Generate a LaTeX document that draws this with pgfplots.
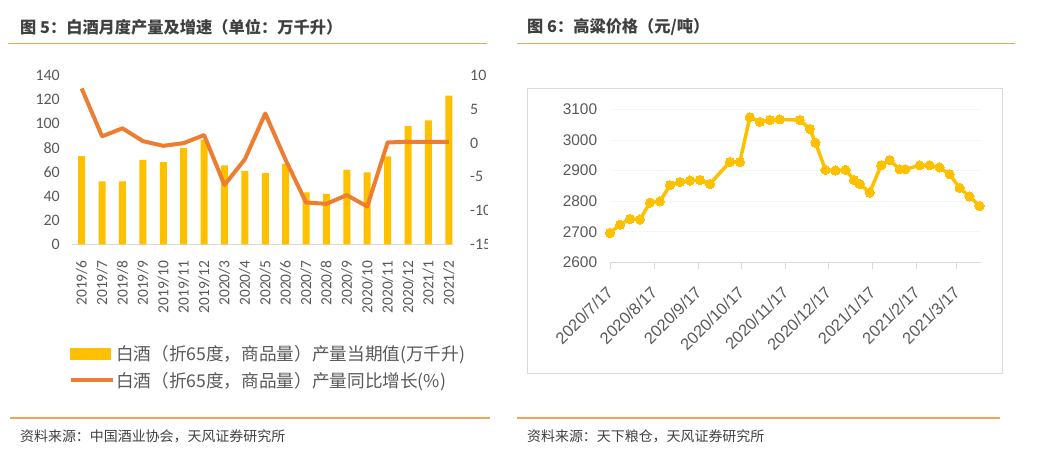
\documentclass[border=0pt]{standalone}
\usepackage{pgfplots}
\pgfplotsset{compat=1.18}
\usepackage{fontspec}
\setmainfont{Carlito}
\newfontfamily\cjk{Noto Sans CJK SC}
\newfontfamily\arial{Liberation Sans}
\definecolor{barY}{HTML}{FFC000}
\definecolor{lineO}{HTML}{ED7D31}
\definecolor{txt}{HTML}{595959}
\definecolor{ttl}{HTML}{404040}
\definecolor{rulec}{HTML}{F2A25C}
\definecolor{axl}{HTML}{D9D9D9}
\pgfplotsset{/pgf/number format/assume math mode=true, /pgf/number format/1000 sep={}}
\begin{document}
\begin{tikzpicture}
\path[use as bounding box] (0,0) rectangle (1041bp,451bp);
% titles and rules
\node[anchor=west, inner sep=0pt, text=ttl, font=\cjk\bfseries\fontsize{16.3}{17}\selectfont] at (20bp,424bp) {图 5：白酒月度产量及增速（单位：万千升）};
\node[anchor=west, inner sep=0pt, text=ttl, font=\cjk\bfseries\fontsize{16.3}{17}\selectfont] at (527bp,424bp) {图 6：高粱价格（元/吨）};
\draw[rulec, line width=1.2bp] (8bp,407.7bp) -- (487bp,407.7bp);
\draw[rulec, line width=1.2bp] (517bp,407.7bp) -- (1015bp,407.7bp);
\draw[rulec, line width=1.2bp] (10bp,33bp) -- (490bp,33bp);
\draw[rulec, line width=1.2bp] (517bp,33bp) -- (1000bp,33bp);
\node[anchor=west, inner sep=0pt, text=ttl, font=\cjk\fontsize{14}{15}\selectfont] at (20bp,15bp) {资料来源：中国酒业协会，天风证券研究所};
\node[anchor=west, inner sep=0pt, text=ttl, font=\cjk\fontsize{14}{15}\selectfont] at (527bp,15bp) {资料来源：天下粮仓，天风证券研究所};

% left panel
\begin{scope}
\clip (0,0) rectangle (487bp,451bp);
\begin{axis}[
  at={(71.7bp,206.7bp)}, anchor=south west,
  scale only axis, width=381.6bp, height=168.6bp,
  xmin=-0.49, xmax=18.22, ymin=0, ymax=140,
  ybar, bar width=7bp,
  axis x line*=bottom, axis y line*=left,
  x axis line style={draw=axl, line width=1.2bp, -},
  y axis line style={draw=none},
  major tick length=0pt, tick style={draw=none},
  xtick={0,...,18},
  xticklabels={2019/6,2019/7,2019/8,2019/9,2019/10,2019/11,2019/12,2020/3,2020/4,2020/5,2020/6,2020/7,2020/8,2020/9,2020/10,2020/11,2020/12,2021/1,2021/2},
  xticklabel style={rotate=90, anchor=east, inner sep=0pt, font=\fontsize{15.5}{15.5}\selectfont, text=txt},
  xticklabel shift=16bp,
  ytick={0,20,...,140},
  yticklabel style={anchor=east, inner sep=0pt, font=\fontsize{16}{16}\selectfont, text=txt},
  yticklabel shift=11.7bp,
  clip=false,
]
\addplot[fill=barY, draw=none] coordinates {
(0,73.3) (1,52.3) (2,52.3) (3,70) (4,68.3) (5,80) (6,87) (7,65.6) (8,60.9) (9,59.2)
(10,66.7) (11,43.2) (12,41.8) (13,61.7) (14,59.8) (15,73) (16,98.2) (17,103) (18,123.4)};
\end{axis}
\begin{axis}[
  at={(71.7bp,206.7bp)}, anchor=south west,
  scale only axis, width=381.6bp, height=168.6bp,
  xmin=-0.49, xmax=18.22, ymin=-15, ymax=10,
  axis x line=none, axis y line*=right,
  y axis line style={draw=none},
  major tick length=0pt, tick style={draw=none},
  ytick={-15,-10,...,10},
  yticklabel style={anchor=west, inner sep=0pt, font=\fontsize{16}{16}\selectfont, text=txt},
  yticklabel shift=16.7bp,
  clip=false,
  legend style={at={(-0.0084,-0.59)}, anchor=north west, draw=none, fill=none,
    font=\cjk\fontsize{17.7}{17.7}\selectfont, text=txt, row sep=7bp, inner sep=0pt,
    nodes={inner sep=1.5bp}},
  legend cell align=left,
]
\addlegendimage{legend image code/.code={\fill[barY] (0bp,-5.5bp) rectangle (40bp,5.5bp);}}
\addlegendentry{白酒（折65度，商品量）产量当期值(万千升)}
\addplot[draw=lineO, line width=4bp, line join=round,
  legend image code/.code={\draw[lineO, line width=4bp] (0bp,0bp) -- (42bp,0bp);}] coordinates {
(0,8.1) (1,1.0) (2,2.2) (3,0.3) (4,-0.4) (5,0.0) (6,1.2) (7,-6.2) (8,-2.4) (9,4.4)
(10,-2.5) (11,-8.8) (12,-9.0) (13,-7.7) (14,-9.4) (15,0.1) (16,0.2) (17,0.2) (18,0.2)};
\addlegendentry{白酒（折65度，商品量）产量同比增长(\%)}
\end{axis}
\end{scope}

% right panel
\draw[axl, line width=1bp] (527bp,77.7bp) rectangle (1002.7bp,362.7bp);
\begin{axis}[
  at={(610bp,188.7bp)}, anchor=south west,
  scale only axis, width=371bp, height=153bp,
  xmin=0, xmax=260, ymin=2600, ymax=3100,
  axis x line*=bottom, axis y line*=left,
  x axis line style={draw=axl, line width=1.2bp, -},
  y axis line style={draw=none},
  xtick={0,31,62,92,123,153,184,215,243},
  xticklabels={2020/7/17,2020/8/17,2020/9/17,2020/10/17,2020/11/17,2020/12/17,2021/1/17,2021/2/17,2021/3/17},
  xtick style={draw=axl, line width=1bp}, major tick length=7bp, xtick align=outside,
  ytick style={draw=none},
  ytick={2600,2700,...,3100},
  scaled y ticks=false,
  ymajorgrids, grid style={draw=gray!7},
  xticklabel style={rotate=45, anchor=east, inner sep=0pt, font=\arial\fontsize{16.5}{16.5}\selectfont, text=txt},
  xticklabel shift=20bp,
  yticklabel style={anchor=east, inner sep=0pt, font=\arial\fontsize{15.5}{15.5}\selectfont, text=txt},
  yticklabel shift=12.7bp,
  clip=false,
]
\addplot[draw=barY, line width=3.5bp, line join=round, mark=*, mark size=4.6bp, mark options={fill=barY, draw=barY, line width=0pt}] coordinates {
(0,2696) (7,2723) (14,2742) (21,2740) (28,2795) (35,2799) (42,2852) (49,2862) (56,2867) (63,2869)
(70,2856) (84,2928) (91,2928) (98,3074) (105,3059) (112,3065) (119,3067) (133,3065) (140,3036) (144,2991)
(151,2902) (158,2900) (165,2902) (171,2869) (175,2856) (182,2828) (190,2917) (196,2934) (203,2904) (207,2904)
(217,2917) (224,2917) (231,2910) (238,2888) (245,2843) (252,2815) (259,2784)};
\end{axis}
\end{tikzpicture}
\end{document}
